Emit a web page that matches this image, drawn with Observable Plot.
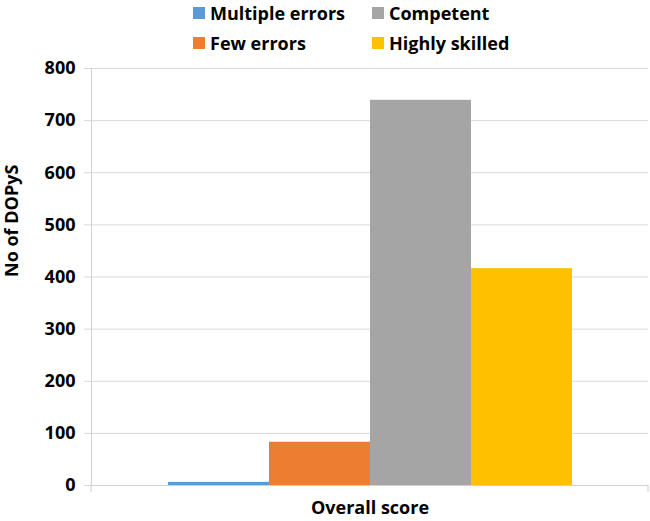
<!DOCTYPE html>
<html><head><meta charset="utf-8">
<script src="https://cdn.jsdelivr.net/npm/d3@7"></script>
<script src="https://cdn.jsdelivr.net/npm/@observablehq/plot@0.6"></script>
<style>
body{margin:0;background:#fff;font-family:"Open Sans",sans-serif;}
#wrap{position:relative;width:650px;height:521px;}
#wrap svg{position:absolute;left:0;top:0;}
.leg{position:absolute;display:flex;align-items:center;font-weight:700;font-size:18px;color:#000;line-height:20px;white-space:nowrap;}
.sw{width:12px;height:12px;margin-right:5px;}
</style></head><body><div id="wrap"></div>
<script>
const categories = ["Multiple errors", "Few errors", "Competent", "Highly skilled"];
const values = [6, 83, 739, 416];
const colors = ["#5b9bd5", "#ed7d31", "#a5a5a5", "#ffc000"];
const yTicks = [0, 100, 200, 300, 400, 500, 600, 700, 800];
const xLabel = "Overall score";
const yLabel = "No of DOPyS";

const data = categories.map((c, i) => ({category: c, value: values[i]}));

const chart = Plot.plot({
  width: 650, height: 521,
  marginTop: 68, marginBottom: 36, marginLeft: 91, marginRight: 2,
  style: {fontFamily: "Open Sans", fontSize: "18px", fontWeight: 700, color: "#000", background: "transparent"},
  x: {domain: categories, paddingInner: 0, paddingOuter: 0.75, axis: null},
  y: {domain: [0, 800], axis: null},
  color: {domain: categories, range: colors},
  marks: [
    Plot.gridY(yTicks, {stroke: "#d9d9d9", strokeOpacity: 1}),
    Plot.axisY(yTicks, {tickSize: 7, tickPadding: 9, stroke: "#d9d9d9", strokeOpacity: 1, fill: "#000", fontWeight: 700, fontSize: 18, label: null}),
    Plot.frame({anchor: "left", stroke: "#d0d0d0", strokeOpacity: 1}),
    Plot.barY(data, {x: "category", y: "value", fill: "category"}),
    Plot.ruleY([0], {stroke: "#d0d0d0"}),
    (index, scales, vals, dims) => {
      const g = d3.create("svg:g").attr("stroke", "#d0d0d0");
      const y0 = scales.y(0);
      [dims.marginLeft, dims.width - dims.marginRight].forEach(x => {
        g.append("line").attr("x1", x).attr("x2", x).attr("y1", y0).attr("y2", y0 + 7);
      });
      return g.node();
    },
    Plot.text([yLabel], {text: d => d, frameAnchor: "left", dx: -79, rotate: -90, fontWeight: 700, fontSize: 18, fill: "#000"}),
    Plot.text([xLabel], {text: d => d, frameAnchor: "bottom", dy: 28, fontWeight: 700, fontSize: 18, fill: "#000"})
  ]
});
const wrap = document.getElementById("wrap");
wrap.appendChild(chart);

const legPos = [[193, 13], [193, 43], [372, 13], [372, 43]];
categories.forEach((c, i) => {
  const d = document.createElement("div");
  d.className = "leg";
  d.style.left = legPos[i][0] + "px";
  d.style.top = (legPos[i][1] - 10) + "px";
  d.innerHTML = `<span class="sw" style="background:${colors[i]}"></span><span>${c}</span>`;
  wrap.appendChild(d);
});
</script></body></html>
